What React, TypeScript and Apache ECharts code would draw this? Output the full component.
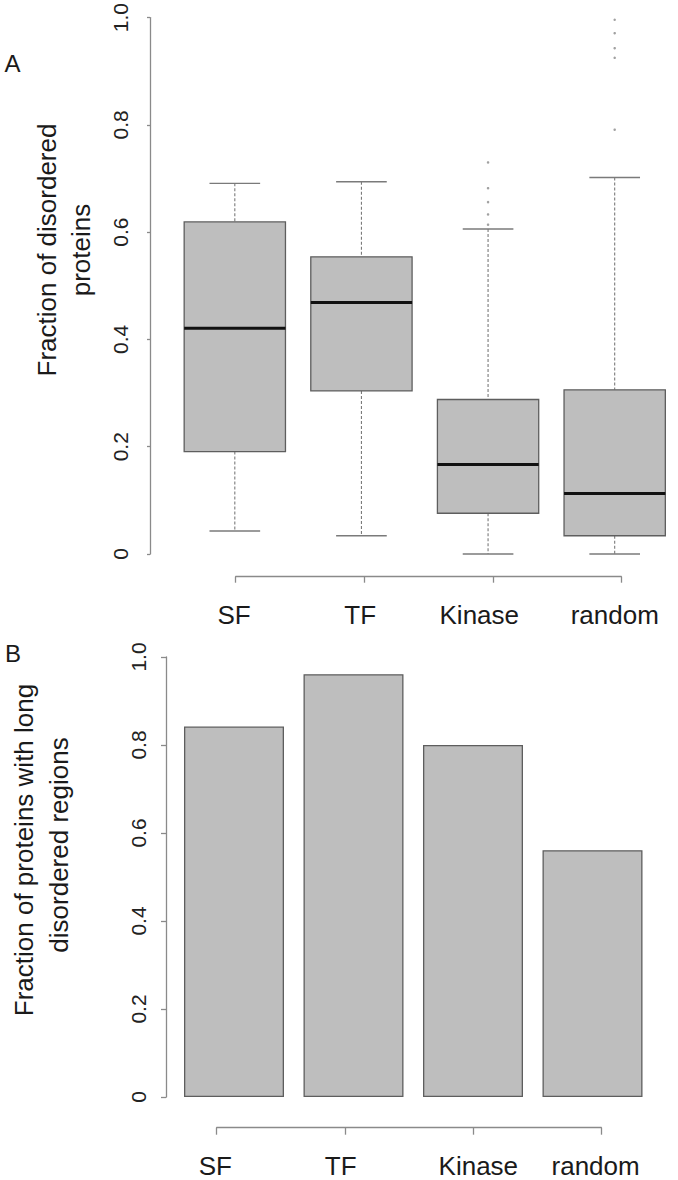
import React, { useEffect, useRef } from "react";
import * as echarts from "echarts";

// ---- Data ----
const categories = ["SF", "TF", "Kinase", "random"];
// Panel A: boxplot statistics (fraction of disordered proteins)
const boxLow = [0.043, 0.034, 0.0, 0.0];
const boxQ1 = [0.191, 0.304, 0.076, 0.034];
const boxMedian = [0.421, 0.469, 0.167, 0.113];
const boxQ3 = [0.619, 0.554, 0.288, 0.306];
const boxHigh = [0.691, 0.694, 0.606, 0.702];
const kinaseOutliers = [0.614, 0.633, 0.656, 0.682, 0.73];
const randomOutliers = [0.791, 0.925, 0.943, 0.971, 0.996];
// Panel B: fraction of proteins with long disordered regions
const longRegionFraction = [0.842, 0.961, 0.8, 0.561];
const yTickStep = 0.2;

// ---- Layout / style constants ----
const FONT = "'Liberation Sans', Arial, Helvetica, sans-serif";
const AXIS_GRAY = "#8a8a8a";
const TEXT = "#1a1a1a";
const labelShiftA = [-1.7, -4, -13.5, -6.6];
const labelShiftB = [-1.4, -4.2, 5.2, -5.7];

function richFor(shifts: number[]) {
  const rich: Record<string, any> = {};
  shifts.forEach((d, i) => {
    const pad = Math.abs(d) * 2;
    rich["l" + i] = {
      fontSize: 26,
      fontFamily: FONT,
      color: TEXT,
      lineHeight: 26,
      padding: d < 0 ? [0, pad, 0, 0] : [0, 0, 0, pad],
    };
  });
  return rich;
}

function tickFmt(v: number) {
  return v === 0 ? "0" : v.toFixed(1);
}

function labelAxis(gridIndex: number, shifts: number[], tickLen: number) {
  return {
    gridIndex,
    type: "category",
    data: categories,
    boundaryGap: false,
    position: "bottom",
    axisLine: { show: true, lineStyle: { color: AXIS_GRAY, width: 1.3 } },
    axisTick: { show: true, length: tickLen, lineStyle: { color: AXIS_GRAY, width: 1.3 } },
    axisLabel: {
      show: true,
      margin: 25,
      interval: 0,
      formatter: (v: string, i: number) => `{l${i}|${v}}`,
      rich: richFor(shifts),
    },
    splitLine: { show: false },
  };
}

function valueAxis(gridIndex: number, offset: number, tickLen: number, margin: number) {
  return {
    gridIndex,
    type: "value",
    min: 0,
    max: 1,
    interval: yTickStep,
    offset,
    axisLine: { show: true, lineStyle: { color: AXIS_GRAY, width: 1.3 } },
    axisTick: { show: true, length: tickLen, lineStyle: { color: AXIS_GRAY, width: 1.3 } },
    axisLabel: {
      show: true,
      rotate: 90,
      margin,
      fontSize: 21,
      fontFamily: FONT,
      color: "#222",
      formatter: tickFmt,
    },
    splitLine: { show: false },
  };
}

export default function App() {
  const ref = useRef<HTMLDivElement>(null);

  useEffect(() => {
    if (!ref.current) return;
    const chart = echarts.init(ref.current, null, { renderer: "svg" });

    const boxData = categories.map((_, i) => [
      i + 1,
      boxLow[i],
      boxQ1[i],
      boxMedian[i],
      boxQ3[i],
      boxHigh[i],
    ]);
    const kIdx = categories.indexOf("Kinase") + 1;
    const rIdx = categories.indexOf("random") + 1;
    const outlierData = [
      ...kinaseOutliers.map((v) => [kIdx, v]),
      ...randomOutliers.map((v) => [rIdx, v]),
    ];

    const option: any = {
      animation: false,
      backgroundColor: "#ffffff",
      textStyle: { fontFamily: FONT },
      grid: [
        { left: 171.5, top: 14, width: 514, height: 540 },
        { left: 235.7, top: 575.7, width: 385.6, height: 1 },
        { left: 174.25, top: 657, width: 478, height: 440 },
        { left: 216.7, top: 1126.7, width: 384.6, height: 1 },
      ],
      xAxis: [
        { gridIndex: 0, type: "value", min: 0.5, max: 4.5, show: false },
        labelAxis(1, labelShiftA, 6),
        { gridIndex: 2, type: "category", data: categories, show: false },
        labelAxis(3, labelShiftB, 7),
      ],
      yAxis: [
        valueAxis(0, 21.5, 3, 19),
        { gridIndex: 1, type: "value", show: false },
        valueAxis(2, 8.25, 5, 17),
        { gridIndex: 3, type: "value", show: false },
      ],
      graphic: [
        {
          type: "text",
          x: 12.5,
          y: 63.5,
          style: { text: "A", fontSize: 24, fontFamily: FONT, fill: TEXT, align: "center", verticalAlign: "middle" },
        },
        {
          type: "text",
          x: 13,
          y: 653,
          style: { text: "B", fontSize: 24, fontFamily: FONT, fill: TEXT, align: "center", verticalAlign: "middle" },
        },
        {
          type: "text",
          x: 47,
          y: 250,
          rotation: Math.PI / 2,
          style: { text: "Fraction of disordered", fontSize: 26, fontFamily: FONT, fill: TEXT, align: "center", verticalAlign: "middle" },
        },
        {
          type: "text",
          x: 81,
          y: 250,
          rotation: Math.PI / 2,
          style: { text: "proteins", fontSize: 26, fontFamily: FONT, fill: TEXT, align: "center", verticalAlign: "middle" },
        },
        {
          type: "text",
          x: 24,
          y: 850,
          rotation: Math.PI / 2,
          style: { text: "Fraction of proteins with long", fontSize: 26, fontFamily: FONT, fill: TEXT, align: "center", verticalAlign: "middle" },
        },
        {
          type: "text",
          x: 59,
          y: 845,
          rotation: Math.PI / 2,
          style: { text: "disordered regions", fontSize: 26, fontFamily: FONT, fill: TEXT, align: "center", verticalAlign: "middle" },
        },
      ],
      series: [
        {
          type: "custom",
          xAxisIndex: 0,
          yAxisIndex: 0,
          data: boxData,
          encode: { x: 0, y: [1, 2, 3, 4, 5] },
          renderItem: (_params: any, api: any) => {
            const x = api.value(0);
            const pLow = api.coord([x, api.value(1)]);
            const pQ1 = api.coord([x, api.value(2)]);
            const pMed = api.coord([x, api.value(3)]);
            const pQ3 = api.coord([x, api.value(4)]);
            const pHigh = api.coord([x, api.value(5)]);
            const w = api.size([0.8, 0])[0];
            const half = w / 2;
            const capHalf = w / 4;
            const cx = pLow[0];
            const whisker = { stroke: "#7a7a7a", lineWidth: 1.1, lineDash: [3, 2] };
            const cap = { stroke: "#7a7a7a", lineWidth: 1.4 };
            return {
              type: "group",
              children: [
                { type: "line", shape: { x1: cx, y1: pHigh[1], x2: cx, y2: pQ3[1] }, style: whisker },
                { type: "line", shape: { x1: cx, y1: pQ1[1], x2: cx, y2: pLow[1] }, style: whisker },
                { type: "line", shape: { x1: cx - capHalf, y1: pHigh[1], x2: cx + capHalf, y2: pHigh[1] }, style: cap },
                { type: "line", shape: { x1: cx - capHalf, y1: pLow[1], x2: cx + capHalf, y2: pLow[1] }, style: cap },
                {
                  type: "rect",
                  shape: { x: cx - half, y: pQ3[1], width: w, height: pQ1[1] - pQ3[1] },
                  style: { fill: "#bebebe", stroke: "#5e5e5e", lineWidth: 1.3 },
                },
                {
                  type: "line",
                  shape: { x1: cx - half, y1: pMed[1], x2: cx + half, y2: pMed[1] },
                  style: { stroke: "#111111", lineWidth: 3 },
                },
              ],
            };
          },
        },
        {
          type: "scatter",
          xAxisIndex: 0,
          yAxisIndex: 0,
          data: outlierData,
          symbol: "circle",
          symbolSize: 2.5,
          itemStyle: { color: "#8a8a8a" },
        },
        {
          type: "bar",
          xAxisIndex: 2,
          yAxisIndex: 2,
          data: longRegionFraction,
          barWidth: 100,
          itemStyle: { color: "#bebebe", borderColor: "#5e5e5e", borderWidth: 1.3 },
        },
      ],
    };

    chart.setOption(option);
    return () => chart.dispose();
  }, []);

  return (
    <div
      ref={ref}
      style={{ position: "absolute", left: 0, top: 0, width: "678px", height: "1180px", background: "#fff" }}
    />
  );
}
